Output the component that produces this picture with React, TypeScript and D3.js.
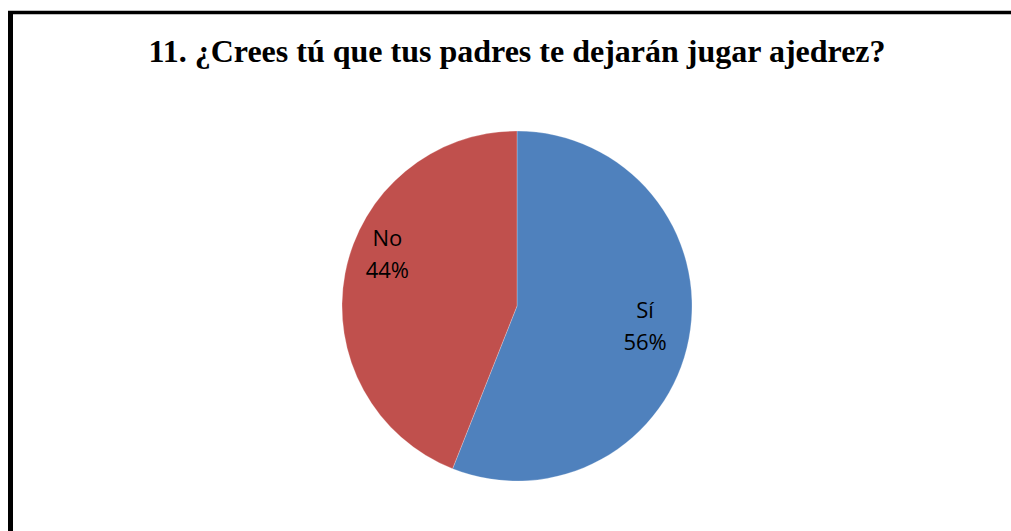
import React, { useEffect, useRef } from 'react';
import * as d3 from 'd3';

const categories = ['Sí', 'No'];
const values = [56, 44];
const colors = ['#4F81BD', '#C0504D'];
const titleText = '11. ¿Crees tú que tus padres te dejarán jugar ajedrez?';

const App = () => {
  const chartRef = useRef<SVGSVGElement>(null);

  useEffect(() => {
    drawChart();
  }, []);

  const drawChart = () => {
    const width = 1011;
    const height = 531;
    const cx = 517;
    const cy = 306;
    const radius = 175;

    const svg = d3.select(chartRef.current)
      .attr('width', width)
      .attr('height', height)
      .attr('viewBox', [0, 0, width, height])
      .style('position', 'absolute')
      .style('left', 0)
      .style('top', 0)
      .style('background', 'white');

    svg.selectAll('*').remove();

    // frame (right and bottom edges fall outside the picture)
    svg.append('line')
      .attr('x1', 8).attr('x2', width + 10)
      .attr('y1', 12.5).attr('y2', 12.5)
      .attr('stroke', '#000').attr('stroke-width', 3.5);
    svg.append('line')
      .attr('x1', 10.5).attr('x2', 10.5)
      .attr('y1', 11).attr('y2', height + 10)
      .attr('stroke', '#000').attr('stroke-width', 5);

    svg.append('text')
      .attr('x', cx)
      .attr('y', 62)
      .attr('text-anchor', 'middle')
      .attr('font-family', '"Liberation Serif", "Times New Roman", serif')
      .attr('font-weight', 'bold')
      .attr('font-size', 32)
      .attr('fill', '#000')
      .text(titleText);

    const data = categories.map((c, i) => ({ category: c, value: values[i] }));

    const pie = d3.pie<any>()
      .sort(null)
      .value((d: any) => d.value);

    const arc = d3.arc<any>()
      .innerRadius(0)
      .outerRadius(radius);

    const arcs = pie(data);

    const g = svg.append('g').attr('transform', `translate(${cx},${cy})`);

    g.selectAll('path')
      .data(arcs)
      .join('path')
      .attr('d', arc as any)
      .attr('fill', (_d, i) => colors[i])
      .attr('stroke', 'rgba(255,255,255,0.35)')
      .attr('stroke-width', 0.7);

    // label placement, roughly like Excel's best fit
    const labelRadius = [0.745, 0.79];
    const labelShift = [0, 0.165];

    const labels = g.append('g')
      .attr('text-anchor', 'middle')
      .attr('font-family', '"Open Sans", "Noto Sans", sans-serif')
      .attr('font-size', 22)
      .attr('fill', '#000')
      .selectAll('text')
      .data(arcs)
      .join('text')
      .attr('transform', (d: any, i) => {
        const a = (d.startAngle + d.endAngle) / 2 + labelShift[i];
        const [x, y] = d3.pointRadial(a, radius * labelRadius[i]);
        return `translate(${x},${y})`;
      });

    labels.append('tspan')
      .attr('x', 0)
      .attr('y', '-0.55em')
      .text((d: any) => d.data.category);
    labels.append('tspan')
      .attr('x', 0)
      .attr('y', '0.88em')
      .text((d: any) => `${d.data.value}%`);
  };

  return <svg ref={chartRef}></svg>;
};

export default App;
